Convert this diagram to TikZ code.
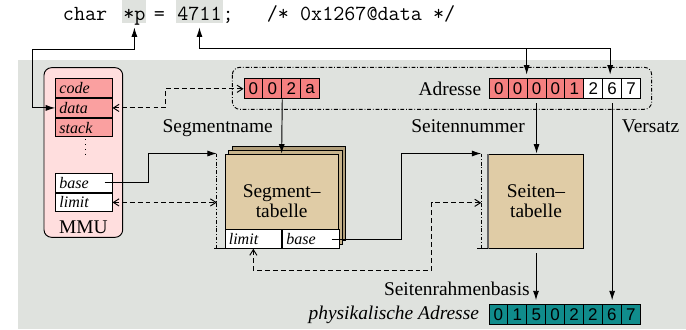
\documentclass[tikz,border=0pt]{standalone}
\usepackage{fontspec}
\setmainfont{Liberation Serif}
\setsansfont{Liberation Sans}
\usetikzlibrary{arrows.meta,positioning,calc}
\definecolor{bggray}{RGB}{223,226,222}
\definecolor{mmupink}{RGB}{255,222,222}
\definecolor{regred}{RGB}{250,160,160}
\definecolor{adrred}{RGB}{245,128,128}
\definecolor{tabtan}{RGB}{224,204,166}
\definecolor{tabback}{RGB}{200,180,140}
\definecolor{tabback2}{RGB}{176,158,122}
\definecolor{phys}{RGB}{16,140,140}
\tikzset{
cell/.style = {draw, rectangle, inner sep=0pt, minimum width=10pt, minimum height=10.6pt, font=\sffamily\fontsize{9}{10}\selectfont},
reg/.style = {draw, rectangle, inner xsep=2pt, inner ysep=0pt, text width=25.9pt, minimum height=9.9pt, align=left, font=\fontsize{8.5}{10}\selectfont\itshape},
tab/.style = {draw, fill=tabtan, rectangle, minimum height=50pt, align=center, font=\fontsize{10.3}{11}\selectfont},
lbl/.style = {font=\fontsize{10.3}{12}\selectfont},
code/.style = {inner xsep=0pt, inner ysep=1pt, text height=10pt, text depth=0.6pt, font=\fontsize{11.4}{12}\ttfamily},
hl/.style = {code, fill=bggray, inner xsep=0.5pt},
dline/.style = {dash pattern=on 2.6pt off 1.6pt, >={Straight Barb[length=3pt,width=3.8pt]}, <->},
regline/.style = {dash pattern=on 2pt off 1pt on 0.4pt off 1pt},
}
\begin{document}
\begin{tikzpicture}[x=0.53pt, y=-0.53pt, line width=0.5pt, >={Latex[length=5pt,width=3.2pt]}]
\useasboundingbox (0,0) rectangle (686,329);
\fill[bggray] (18.3,60) rectangle (686,329);

% C-Zeile
\node[code, anchor=base west] (kw) at (62.5,20) {char};
\node[hl, right=7.5pt of kw] (ptr) {*p};
\node[code, right=3.5pt of ptr] (eq) {=};
\node[hl, right=5.5pt of eq] (num) {4711};
\node[code, right=-0.5pt of num] (cmt) {;\ \ \ /*\ 0x1267@data\ */};

% MMU
\node[draw, fill=mmupink, rounded corners=4pt, minimum width=41.7pt, minimum height=89.9pt] (mmu) at (83.35,152.5) {};
\node[lbl, anchor=base] (mmulbl) at (83.35,233.3) {MMU};
\node[reg, fill=regred] (mcode) at (83.85,88.3) {code};
\node[reg, fill=regred, below=0pt of mcode] (mdata) {data};
\node[reg, fill=regred, below=0pt of mdata] (mstack) {stack};
\draw[dotted] ($(mstack.south)+(2,2)$) -- ++(0,16);
\node[reg, fill=white] (mbase) at (83.85,182.8) {base};
\node[reg, fill=white, below=0pt of mbase] (mlimit) {limit};

% logische Adresse
\draw[regline, rounded corners=4pt] (232.3,67.3) rectangle (651.7,109.3);
\foreach \d [count=\i] in {0,0,2,a}
  \node[cell, fill=adrred] (s\i) at ({244+(\i-0.5)*18.9},88.8) {\d};
\foreach \d/\c [count=\i] in {0/adrred,0/adrred,0/adrred,0/adrred,1/adrred,2/white,6/white,7/white}
  \node[cell, fill=\c] (a\i) at ({489.3+(\i-0.5)*18.9},88.5) {\d};
\node[lbl, left=0.5pt of a1] (adr) {Adresse};

% Segmenttabelle
\coordinate (segc) at (281.65,201.15);
\foreach \s/\c in {7.5/tabback2,3.8/tabback}
  \draw[fill=\c] ($(segc)+(\s-56.65,-\s-47.15)$) rectangle ++(113.3,94.3);
\node[tab, minimum width=60pt] (segtab) at (segc) {Segment--\\tabelle};
\node[reg, fill=white, anchor=south west, text width=26pt] (slimit) at (segtab.south west) {limit};
\node[reg, fill=white, right=0pt of slimit, text width=26pt] (sbase) {base};
\coordinate (segreg) at ($(segtab.north west)+(-7.7,0)$);
\draw[regline] (segreg) -- (segreg |- segtab.south);
\draw (segtab.south west) -- ++(-11,0);

% Seitentabelle
\node[tab, minimum width=50.1pt] (pagetab) at (536,201.15) {Seiten--\\tabelle};
\draw[gray!80!black, line width=1.1pt] (pagetab.south west) -- (pagetab.north west);
\coordinate (pagereg) at ($(pagetab.north west)+(-7,0)$);
\draw[regline] (pagereg) -- (pagereg |- pagetab.south);
\draw (pagetab.south west) -- ++(-11,0);

% physikalische Adresse
\foreach \d [count=\i] in {0,1,5,0,2,2,6,7}
  \node[cell, fill=phys] (p\i) at ({489+(\i-0.5)*18.9},314.7) {\d};
\node[left=1.5pt of p1, font=\fontsize{10.3}{12}\selectfont\itshape] (physadr) {physikalische Adresse};

% Beschriftungen
\node[lbl, anchor=base east] (segname) at (279.5,132.5) {Segmentname};
\node[lbl, anchor=base east] (pagenum) at (531.5,132.5) {Seitennummer};
\node[lbl, anchor=base west] (offs) at (615.2,132.5) {Versatz};
\node[lbl, anchor=base east] (framebase) at (536.5,295) {Seitenrahmenbasis};

% Verbindungen
\draw[<->] ($(ptr.south)+(0,4)$) -- ++(0,22) -| ($(mdata.west)+(-23,0)$) -- (mdata.west);
\draw[<->] ($(num.south)+(0,4)$) |- ($(a7.north)+(-2,-29.5)$) -- ($(a7.north)+(-2,-3.5)$);
\draw[->] ($(a3.north west)+(0,-29.5)$) -- ($(a3.north west)+(0,-3.5)$);
\draw[dline] (mdata.east) -- ++(53,0) |- (s1.west);
\draw[->] (s2.south east) -- (segtab.north);
\draw[->] ($(mbase.east)+(-8,0)$) -| ($(segreg)+(-68,0)$) -- (segreg);
\draw[dline] (mlimit.east) -- (mlimit.east -| segreg);
\draw[->] ($(sbase.east)+(-8,0)$) -| ($(pagereg)+(-79.4,0)$) -- (pagereg);
\draw[dline] (slimit.south) |- ($(pagereg)+(-49.4,116.7)$) |- ($(pagereg)+(0,49.3)$);
\draw[->] ($(a3.south)+(0,4.5)$) -- (a3.south |- pagetab.north);
\draw[->] ($(pagetab.south)+(0,4.4)$) -- ($(pagetab.south |- p3.north)+(0,-4)$);
\draw[->] ($(a7.south)+(0,4.5)$) -- ($(a7.south |- p7.north)+(0,-4)$);
\end{tikzpicture}
\end{document}
